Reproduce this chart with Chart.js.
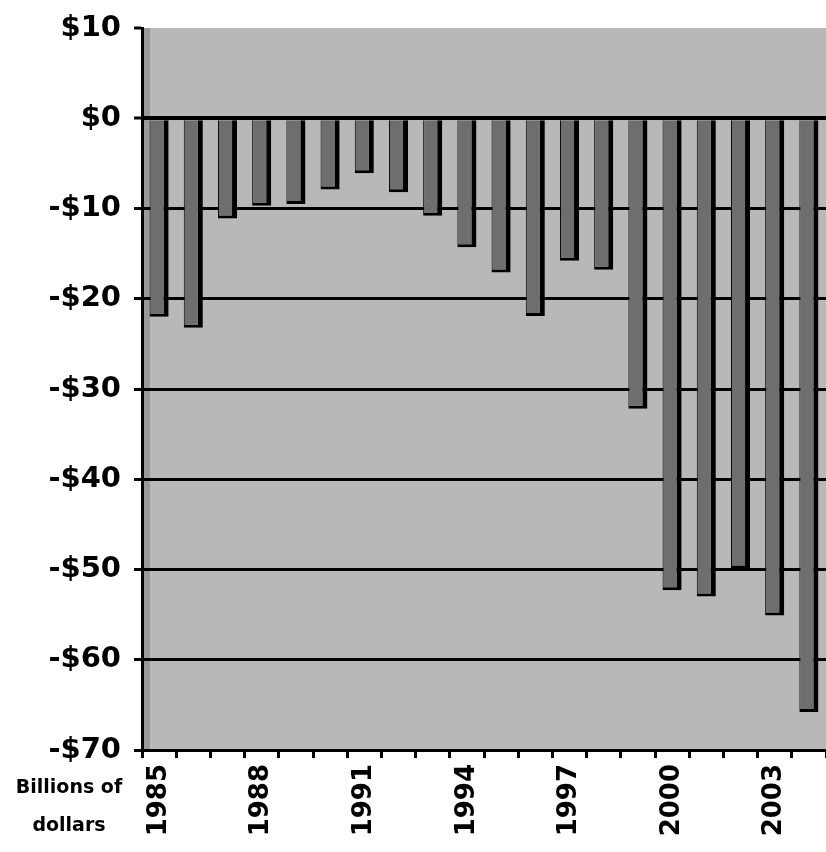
<!DOCTYPE html>
<html>
<head>
<meta charset="utf-8">
<script src="https://cdn.jsdelivr.net/npm/chart.js@4"></script>
<style>
  html, body { margin: 0; padding: 0; background: #ffffff; }
  #wrap { width: 826px; height: 852px; }
</style>
</head>
<body>
<div id="wrap"><canvas id="chart" width="826" height="852"></canvas></div>
<script>
// years 1985-2004, balance in billions of dollars
const years = ['1985', '1986', '1987', '1988', '1989', '1990', '1991', '1992', '1993', '1994',
               '1995', '1996', '1997', '1998', '1999', '2000', '2001', '2002', '2003', '2004'];
const balance = [-22.0, -23.2, -11.1, -9.7, -9.5, -7.9, -6.1, -8.2, -10.8, -14.3,
                 -17.1, -21.9, -15.8, -16.8, -32.2, -52.3, -53.0, -49.9, -55.1, -65.8];
const yTicks = [10, 0, -10, -20, -30, -40, -50, -60, -70];
const unitLines = ['Billions of', 'dollars'];

// gray plot background + left wall + unit note
const backdrop = {
    id: 'backdrop',
    beforeDraw(chart) {
        const { ctx, chartArea: a } = chart;
        ctx.save();
        ctx.fillStyle = '#b8b8b8';
        ctx.fillRect(a.left, a.top, a.right - a.left, a.bottom - a.top);
        ctx.fillStyle = '#9a9a9a';
        ctx.fillRect(a.left, a.top, 8, a.bottom - a.top);
        ctx.restore();
    },
    afterDraw(chart) {
        const ctx = chart.ctx;
        ctx.save();
        ctx.fillStyle = '#000';
        ctx.font = 'bold 19px "DejaVu Sans"';
        ctx.textAlign = 'center';
        ctx.textBaseline = 'middle';
        ctx.fillText(unitLines[0], 69, 788);
        ctx.fillText(unitLines[1], 69, 826);
        ctx.restore();
    }
};

new Chart(document.getElementById('chart'), {
    type: 'bar',
    data: {
        labels: years,
        datasets: [{
            data: balance,
            backgroundColor: '#6e6e6e',
            borderColor: '#000000',
            borderWidth: { top: 0, right: 5, bottom: 3, left: 1 },
            borderSkipped: 'start',
            barPercentage: 0.62,
            categoryPercentage: 0.9
        }]
    },
    options: {
        responsive: false,
        animation: false,
        layout: { padding: { top: 28, right: 0, left: 0, bottom: 0 } },
        plugins: { legend: { display: false }, tooltip: { enabled: false } },
        scales: {
            x: {
                offset: true,
                grid: {
                    display: true,
                    offset: true,
                    drawOnChartArea: false,
                    drawTicks: true,
                    tickLength: 8,
                    tickWidth: 3,
                    tickColor: '#000'
                },
                border: { display: true, color: '#000', width: 3 },
                ticks: {
                    autoSkip: false,
                    maxRotation: 90,
                    minRotation: 90,
                    padding: 6,
                    color: '#000',
                    font: { family: 'DejaVu Sans', weight: 'bold', size: 26 },
                    callback: (v, i) => (i % 3 === 0 ? years[i] : '')
                },
                afterFit: (scale) => {
                    scale.height = 102;
                    scale.paddingLeft = 0;
                    scale.paddingRight = 0;
                }
            },
            y: {
                min: -70,
                max: 10,
                afterBuildTicks: (scale) => { scale.ticks = yTicks.map(v => ({ value: v })); },
                grid: {
                    color: '#000',
                    lineWidth: (c) => (c.tick && c.tick.value === 10 ? 0 : (c.tick && c.tick.value === 0 ? 4 : 3)),
                    tickLength: 8,
                    tickWidth: 3,
                    tickColor: '#000'
                },
                border: { display: true, color: '#000', width: 3 },
                ticks: {
                    padding: 13,
                    color: '#000',
                    font: { family: 'DejaVu Sans', weight: 'bold', size: 29 },
                    callback: (v) => (v < 0 ? '-$' + Math.abs(v) : '$' + v)
                },
                afterFit: (scale) => {
                    scale.width = 142;
                    scale.paddingTop = 0;
                    scale.paddingBottom = 0;
                }
            }
        }
    },
    plugins: [backdrop]
});
</script>
</body>
</html>
